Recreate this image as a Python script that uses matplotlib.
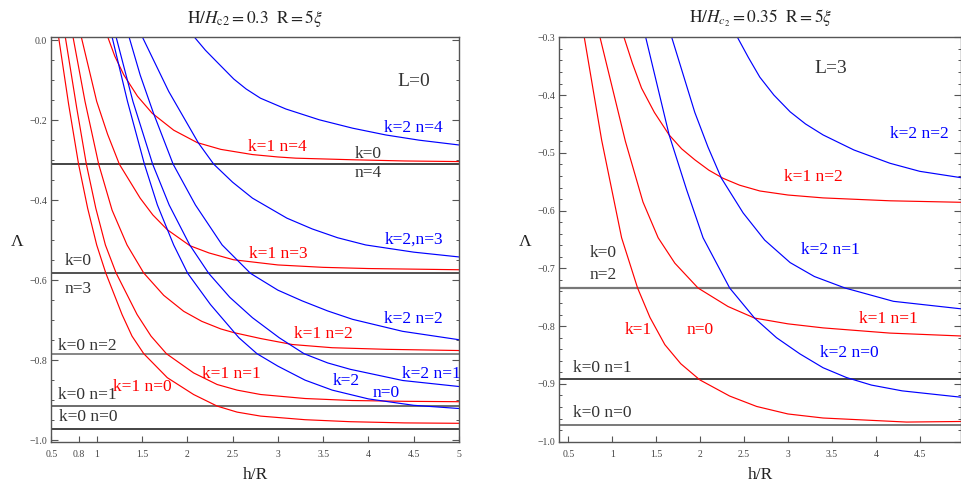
import matplotlib
matplotlib.use("Agg")
import matplotlib.pyplot as plt
from matplotlib.ticker import FixedLocator, MultipleLocator, FuncFormatter

plt.rcParams["font.family"] = ["Liberation Serif", "DejaVu Serif"]
plt.rcParams["mathtext.fontset"] = "stix"

### left panel, L=0, H/Hc2=0.3

# k=0 levels (horizontal lines), n=4..0
left_k0_levels = [-0.31, -0.583, -0.784, -0.915, -0.971]

# k=1 (red)
left_k1_n0_x = [0.578, 0.69, 0.80, 0.90, 1.00, 1.10, 1.28, 1.39, 1.52, 1.78, 2.07, 2.33, 2.55, 2.81, 3.3, 3.8, 4.4, 5.0]
left_k1_n0_y = [0.01, -0.16, -0.31, -0.42, -0.512, -0.582, -0.686, -0.74, -0.784, -0.844, -0.886, -0.915, -0.93, -0.94, -0.949, -0.954, -0.957, -0.958]
left_k1_n1_x = [0.652, 0.78, 0.886, 0.99, 1.096, 1.214, 1.446, 1.60, 1.77, 2.07, 2.33, 2.55, 2.81, 3.3, 3.82, 4.4, 5.0]
left_k1_n1_y = [0.01, -0.17, -0.31, -0.42, -0.512, -0.582, -0.686, -0.74, -0.784, -0.832, -0.861, -0.875, -0.886, -0.896, -0.901, -0.903, -0.904]
left_k1_n2_x = [0.737, 0.871, 1.022, 1.17, 1.335, 1.519, 1.74, 1.961, 2.16, 2.37, 2.51, 2.81, 3.16, 3.6, 4.2, 5.0]
left_k1_n2_y = [0.01, -0.153, -0.31, -0.425, -0.512, -0.582, -0.638, -0.678, -0.703, -0.722, -0.731, -0.746, -0.761, -0.769, -0.773, -0.776]
left_k1_n3_x = [0.828, 1.0, 1.12, 1.25, 1.48, 1.62, 1.78, 2.03, 2.24, 2.51, 3.0, 3.5, 4.0, 5.0]
left_k1_n3_y = [0.01, -0.153, -0.235, -0.31, -0.395, -0.437, -0.474, -0.514, -0.532, -0.549, -0.562, -0.568, -0.571, -0.574]
left_k1_n4_x = [1.119, 1.20, 1.30, 1.45, 1.612, 1.85, 2.109, 2.37, 2.72, 3.0, 3.2, 3.825, 4.4, 5.0]
left_k1_n4_y = [0.01, -0.04, -0.087, -0.14, -0.1825, -0.225, -0.256, -0.273, -0.286, -0.292, -0.295, -0.299, -0.302, -0.3035]

# k=2 (blue)
left_k2_n0_x = [1.168, 1.34, 1.527, 1.67, 1.85, 2.005, 2.256, 2.57, 2.77, 3.0, 3.3, 3.6, 4.0, 4.5, 5.0]
left_k2_n0_y = [0.01, -0.153, -0.31, -0.412, -0.512, -0.583, -0.661, -0.744, -0.784, -0.815, -0.85, -0.875, -0.897, -0.913, -0.921]
left_k2_n1_x = [1.212, 1.40, 1.618, 1.80, 2.027, 2.237, 2.47, 2.72, 3.015, 3.29, 3.55, 3.8, 4.38, 5.0]
left_k2_n1_y = [0.01, -0.153, -0.31, -0.412, -0.512, -0.583, -0.643, -0.694, -0.744, -0.784, -0.807, -0.823, -0.851, -0.866]
left_k2_n2_x = [1.355, 1.48, 1.626, 1.844, 2.09, 2.385, 2.698, 3.0, 3.27, 3.55, 3.825, 4.377, 5.0]
left_k2_n2_y = [0.01, -0.087, -0.182, -0.31, -0.412, -0.512, -0.583, -0.625, -0.652, -0.677, -0.698, -0.728, -0.749]
left_k2_n3_x = [1.50, 1.795, 2.123, 2.292, 2.50, 2.72, 3.1, 3.38, 3.66, 3.97, 4.5, 5.0]
left_k2_n3_y = [0.01, -0.128, -0.257, -0.31, -0.355, -0.395, -0.445, -0.472, -0.494, -0.512, -0.53, -0.542]
left_k2_n4_x = [2.07, 2.20, 2.33, 2.513, 2.65, 2.808, 3.088, 3.457, 3.825, 4.193, 4.56, 5.0]
left_k2_n4_y = [0.01, -0.025, -0.055, -0.097, -0.122, -0.145, -0.172, -0.199, -0.22, -0.237, -0.25, -0.262]

left_xticks = [0.5, 0.8, 1, 1.5, 2, 2.5, 3, 3.5, 4, 4.5, 5]
left_xticklabels = ["0.5", "0.8", "1", "1.5", "2", "2.5", "3", "3.5", "4", "4.5", "5"]

### right panel, L=3, H/Hc2=0.35

right_k0_levels = [-0.7334, -0.892, -0.971]

right_k1_n0_x = [0.68, 0.88, 1.107, 1.289, 1.43, 1.599, 1.78, 1.997, 2.337, 2.644, 3.0, 3.40, 4.35, 4.97]
right_k1_n0_y = [-0.298, -0.478, -0.647, -0.734, -0.785, -0.832, -0.865, -0.893, -0.921, -0.939, -0.952, -0.959, -0.966, -0.965]
right_k1_n1_x = [0.858, 1.15, 1.35, 1.523, 1.713, 1.977, 2.318, 2.62, 3.0, 3.40, 4.16, 4.97]
right_k1_n1_y = [-0.298, -0.48, -0.585, -0.647, -0.691, -0.734, -0.766, -0.786, -0.796, -0.803, -0.812, -0.817]
right_k1_n2_x = [1.13, 1.23, 1.334, 1.48, 1.648, 1.79, 1.94, 2.10, 2.261, 2.45, 2.68, 3.0, 3.40, 4.16, 4.97]
right_k1_n2_y = [-0.298, -0.345, -0.388, -0.43, -0.469, -0.493, -0.512, -0.53, -0.544, -0.556, -0.566, -0.573, -0.578, -0.583, -0.5856]

right_k2_n0_x = [1.378, 1.648, 1.847, 2.034, 2.337, 2.62, 2.87, 3.136, 3.40, 3.667, 3.95, 4.3, 4.97]
right_k2_n0_y = [-0.298, -0.469, -0.564, -0.647, -0.734, -0.786, -0.82, -0.848, -0.872, -0.889, -0.902, -0.912, -0.923]
right_k2_n1_x = [1.673, 1.94, 2.09, 2.243, 2.49, 2.735, 3.025, 3.3, 3.65, 4.2, 4.97]
right_k2_n1_y = [-0.298, -0.43, -0.49, -0.544, -0.604, -0.651, -0.690, -0.714, -0.734, -0.757, -0.77]
right_k2_n2_x = [2.418, 2.55, 2.68, 2.84, 3.025, 3.2, 3.40, 3.75, 4.16, 4.5, 4.97]
right_k2_n2_y = [-0.298, -0.335, -0.369, -0.40, -0.429, -0.45, -0.469, -0.495, -0.518, -0.532, -0.543]

right_xticks = [0.5, 1, 1.5, 2, 2.5, 3, 3.5, 4, 4.5, 5]
right_xticklabels = ["0.5", "1", "1.5", "2", "2.5", "3", "3.5", "4", "4.5", "5"]

RED = "#ff0000"
BLUE = "#0000ff"
TXT = "#333333"
FRAME = "#555555"


def ylab(v, pos):
    s = "%.1f" % v
    if s == "-0.0":
        s = "0.0"
    return s.replace("-", "\u2212")


def style(ax, xticks, xticklabels, ymajor, yminor):
    ax.xaxis.set_major_locator(FixedLocator(xticks))
    ax.set_xticklabels(xticklabels)
    ax.yaxis.set_major_locator(MultipleLocator(ymajor))
    ax.yaxis.set_minor_locator(MultipleLocator(yminor))
    ax.yaxis.set_major_formatter(FuncFormatter(ylab))
    ax.tick_params(axis="both", which="both", direction="in", colors=FRAME,
                   labelcolor="#444444", labelsize=7)
    ax.tick_params(axis="y", which="both", left=True, right=True, pad=3)
    ax.tick_params(axis="y", which="major", length=5, width=0.8)
    ax.tick_params(axis="y", which="minor", length=2.5, width=0.7)
    ax.tick_params(axis="x", which="major", length=4, width=0.8, pad=6)
    for sp in ax.spines.values():
        sp.set_color(FRAME)
        sp.set_linewidth(1.0)


fig = plt.figure(figsize=(9.62, 4.83), dpi=100)

# ---------------- left
ax1 = fig.add_axes([51.4 / 962, 1 - 441.7 / 483, 407.6 / 962, 404.7 / 483])
ax1.set_xlim(0.5, 5.0)
ax1.set_ylim(-1.004, 0.008)

left_black_colors = ["#111111", "#222222", "#666666", "#444444", "#111111"]
for lev, c in zip(left_k0_levels, left_black_colors):
    ax1.axhline(lev, color=c, lw=1.1)

for xs, ys in [(left_k1_n0_x, left_k1_n0_y), (left_k1_n1_x, left_k1_n1_y),
               (left_k1_n2_x, left_k1_n2_y), (left_k1_n3_x, left_k1_n3_y),
               (left_k1_n4_x, left_k1_n4_y)]:
    ax1.plot(xs, ys, color=RED, lw=0.85)
for xs, ys in [(left_k2_n0_x, left_k2_n0_y), (left_k2_n1_x, left_k2_n1_y),
               (left_k2_n2_x, left_k2_n2_y), (left_k2_n3_x, left_k2_n3_y),
               (left_k2_n4_x, left_k2_n4_y)]:
    ax1.plot(xs, ys, color=BLUE, lw=0.85)

left_text = [
    ("L=0", 4.5, -0.103, TXT, 14),
    ("k=2 n=4", 4.5, -0.2185, BLUE, 12.5),
    ("k=1 n=4", 3.0, -0.266, RED, 12.5),
    ("k=0", 4.0, -0.284, TXT, 12.5),
    ("n=4", 4.0, -0.3325, TXT, 12.5),
    ("k=2,n=3", 4.5, -0.499, BLUE, 12.5),
    ("k=1 n=3", 3.0, -0.534, RED, 12.5),
    ("k=0", 0.80, -0.551, TXT, 12.5),
    ("n=3", 0.80, -0.6225, TXT, 12.5),
    ("k=2 n=2", 4.5, -0.697, BLUE, 12.5),
    ("k=1 n=2", 3.504, -0.735, RED, 12.5),
    ("k=0 n=2", 0.902, -0.764, TXT, 12.5),
    ("k=1 n=1", 2.49, -0.835, RED, 12.5),
    ("k=2", 3.755, -0.851, BLUE, 12.5),
    ("k=2 n=1", 4.696, -0.835, BLUE, 12.5),
    ("n=0", 4.20, -0.881, BLUE, 12.5),
    ("k=0 n=1", 0.893, -0.887, TXT, 12.5),
    ("k=1 n=0", 1.50, -0.866, RED, 12.5),
    ("k=0 n=0", 0.902, -0.9425, TXT, 12.5),
]
for s, x, y, c, fs in left_text:
    ax1.text(x, y, s, color=c, fontsize=fs, ha="center", va="center", clip_on=False)

style(ax1, left_xticks, left_xticklabels, 0.2, 0.05)
ax1.set_title(r"$\mathrm{H}/H_{\mathrm{c2}}=0.3\ \ \mathrm{R}=5\xi$", fontsize=12.5, color="#222222", pad=10)
ax1.set_xlabel("h/R", fontsize=12.5, color="#222222", labelpad=6)
ax1.set_ylabel("Λ", fontsize=12.5, color="#222222", rotation=0, va="center", ha="center")
ax1.yaxis.set_label_coords(-0.084, 0.494)

# ---------------- right
ax2 = fig.add_axes([559.3 / 962, 1 - 441.7 / 483, 402.2 / 962, 404.4 / 483])
ax2.set_xlim(0.398, 4.975)
ax2.set_ylim(-1.0, -0.3)

right_black_colors = ["#777777", "#111111", "#555555"]
right_black_widths = [1.6, 1.1, 1.1]
for lev, c, w in zip(right_k0_levels, right_black_colors, right_black_widths):
    ax2.axhline(lev, color=c, lw=w)

for xs, ys in [(right_k1_n0_x, right_k1_n0_y), (right_k1_n1_x, right_k1_n1_y),
               (right_k1_n2_x, right_k1_n2_y)]:
    ax2.plot(xs, ys, color=RED, lw=0.85)
for xs, ys in [(right_k2_n0_x, right_k2_n0_y), (right_k2_n1_x, right_k2_n1_y),
               (right_k2_n2_x, right_k2_n2_y)]:
    ax2.plot(xs, ys, color=BLUE, lw=0.85)

right_text = [
    ("L=3", 3.49, -0.354, TXT, 14),
    ("k=2 n=2", 4.5, -0.467, BLUE, 12.5),
    ("k=1 n=2", 3.29, -0.541, RED, 12.5),
    ("k=2 n=1", 3.48, -0.668, BLUE, 12.5),
    ("k=0", 0.898, -0.674, TXT, 12.5),
    ("n=2", 0.898, -0.711, TXT, 12.5),
    ("k=1 n=1", 4.14, -0.788, RED, 12.5),
    ("k=1", 1.294, -0.807, RED, 12.5),
    ("n=0", 1.997, -0.807, RED, 12.5),
    ("k=2 n=0", 3.695, -0.847, BLUE, 12.5),
    ("k=0 n=1", 0.889, -0.872, TXT, 12.5),
    ("k=0 n=0", 0.889, -0.95, TXT, 12.5),
]
for s, x, y, c, fs in right_text:
    ax2.text(x, y, s, color=c, fontsize=fs, ha="center", va="center")

style(ax2, right_xticks, right_xticklabels, 0.1, 0.02)
ax2.set_title(r"$\mathrm{H}/H_{c_2}=0.35\ \ \mathrm{R}=5\xi$", fontsize=12.5, color="#222222", pad=10)
ax2.set_xlabel("h/R", fontsize=12.5, color="#222222", labelpad=6)
ax2.set_ylabel("Λ", fontsize=12.5, color="#222222", rotation=0, va="center", ha="center")
ax2.yaxis.set_label_coords(-0.085, 0.494)

fig.savefig("out.png", dpi=100)
